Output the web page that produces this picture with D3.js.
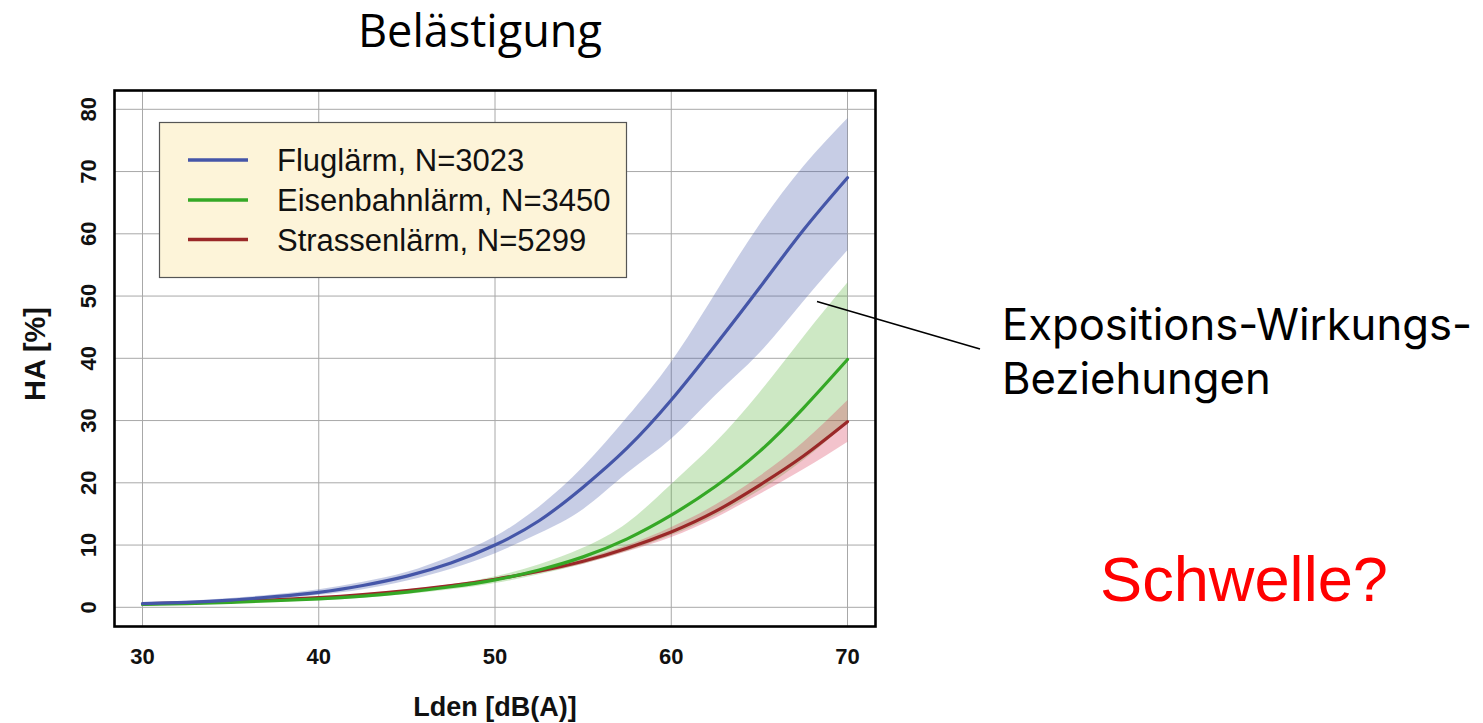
<!DOCTYPE html>
<html>
<head>
<meta charset="utf-8">
<script src="https://cdn.jsdelivr.net/npm/d3@7"></script>
<style>
  body { margin: 0; background: #fff; }
  svg { display: block; }
</style>
</head>
<body>
<svg id="chart" width="1483" height="723"></svg>
<script>
// Exposure level Lden in dB(A)
const levels = [30, 32.5, 35, 37.5, 40, 42.5, 45, 47.5, 50, 52.5, 55, 57.5, 60, 62.5, 65, 67.5, 70];

// Highly annoyed (%) – aircraft noise, with confidence band
const flugMid = [0.6, 0.8, 1.15, 1.7, 2.4, 3.5, 5.0, 7.1, 10.0, 13.9, 19.3, 25.6, 33.3, 42.1, 51.3, 60.6, 69.0];
const flugLo  = [0.39, 0.6, 0.9, 1.34, 2.0, 2.9, 4.3, 6.2, 8.7, 11.9, 15.8, 21.6, 27.1, 34.1, 40.9, 49.2, 57.4];
const flugHi  = [0.74, 1.05, 1.5, 2.1, 2.9, 4.1, 5.7, 8.2, 11.4, 16.2, 22.6, 30.6, 39.5, 50.5, 61.5, 70.9, 78.6];

// Railway noise
const bahnMid = [0.45, 0.6, 0.8, 1.05, 1.35, 1.8, 2.45, 3.3, 4.4, 6.0, 8.1, 11.0, 14.8, 19.4, 25.0, 32.0, 39.8];
const bahnLo  = [0.38, 0.5, 0.68, 0.9, 1.15, 1.55, 2.15, 2.9, 3.9, 5.3, 7.0, 9.1, 11.6, 14.8, 18.8, 23.7, 29.7];
const bahnHi  = [0.55, 0.72, 0.95, 1.2, 1.55, 2.05, 2.75, 3.7, 5.0, 6.9, 9.6, 13.6, 19.8, 26.5, 34.5, 43.5, 52.2];

// Road traffic noise
const strMid = [0.55, 0.72, 0.92, 1.2, 1.55, 2.05, 2.7, 3.5, 4.5, 5.8, 7.4, 9.5, 12.1, 15.4, 19.6, 24.3, 29.8];
const strLo  = [0.48, 0.63, 0.82, 1.08, 1.42, 1.88, 2.52, 3.28, 4.28, 5.5, 7.0, 9.0, 11.3, 14.4, 18.2, 22.2, 26.6];
const strHi  = [0.62, 0.81, 1.02, 1.33, 1.68, 2.22, 2.88, 3.72, 4.75, 6.1, 7.8, 10.0, 12.9, 16.5, 21.1, 26.6, 33.3];

const seriesNames = ["Fluglärm, N=3023", "Eisenbahnlärm, N=3450", "Strassenlärm, N=5299"];
const xTicks = [30, 40, 50, 60, 70];
const yTicks = [0, 10, 20, 30, 40, 50, 60, 70, 80];

const svg = d3.select("#chart");

// plot frame and scales
const frame = { left: 114.5, top: 90.5, right: 875.5, bottom: 626.5 };
const x = d3.scaleLinear().domain([30, 70]).range([142.5, 847.5]);
const y = d3.scaleLinear().domain([0, 80]).range([607.3, 109.3]);

const series = [
  { name: seriesNames[0], mid: flugMid, lo: flugLo, hi: flugHi, line: "#4556a8", band: "rgba(70,90,170,0.30)" },
  { name: seriesNames[1], mid: bahnMid, lo: bahnLo, hi: bahnHi, line: "#35a826", band: "rgba(90,180,60,0.30)" },
  { name: seriesNames[2], mid: strMid,  lo: strLo,  hi: strHi,  line: "#9a2828", band: "rgba(215,55,85,0.30)" }
];

// grid
const grid = svg.append("g");
grid.selectAll("line.gx").data(xTicks).join("line")
  .attr("x1", d => x(d)).attr("x2", d => x(d))
  .attr("y1", frame.top).attr("y2", frame.bottom)
  .attr("stroke", "#a8a8a8").attr("stroke-width", 1);
grid.selectAll("line.gy").data(yTicks).join("line")
  .attr("x1", frame.left).attr("x2", frame.right)
  .attr("y1", d => y(d)).attr("y2", d => y(d))
  .attr("stroke", "#a8a8a8").attr("stroke-width", 1);

// confidence bands
const area = (s) => d3.area()
  .x((d, i) => x(levels[i]))
  .y0((d, i) => y(s.lo[i]))
  .y1((d, i) => y(s.hi[i]))
  .curve(d3.curveNatural)(levels);

svg.append("g").selectAll("path").data(series).join("path")
  .attr("d", s => area(s))
  .attr("fill", s => s.band)
  .attr("stroke", "none");

// mean curves
const line = (s) => d3.line()
  .x((d, i) => x(levels[i]))
  .y((d, i) => y(s.mid[i]))
  .curve(d3.curveNatural)(levels);

svg.append("g").selectAll("path").data(series.slice().reverse()).join("path")
  .attr("d", s => line(s))
  .attr("fill", "none")
  .attr("stroke", s => s.line)
  .attr("stroke-width", 3.2)
  .attr("stroke-linecap", "round");

// legend
const lg = svg.append("g");
lg.append("rect")
  .attr("x", 159.5).attr("y", 122.5).attr("width", 467).attr("height", 155)
  .attr("fill", "#fdf4d9").attr("stroke", "#555").attr("stroke-width", 1.2);
const legendRows = [160, 200, 239.5];
series.forEach((s, i) => {
  lg.append("line")
    .attr("x1", 188).attr("x2", 248)
    .attr("y1", legendRows[i]).attr("y2", legendRows[i])
    .attr("stroke", s.line).attr("stroke-width", 3.4);
  lg.append("text")
    .attr("x", 277).attr("y", legendRows[i]).attr("dy", "0.36em")
    .attr("font-family", "'Liberation Sans', Arial, sans-serif")
    .attr("font-size", 31)
    .attr("fill", "#111")
    .text(s.name);
});

// frame
svg.append("rect")
  .attr("x", frame.left).attr("y", frame.top)
  .attr("width", frame.right - frame.left).attr("height", frame.bottom - frame.top)
  .attr("fill", "none").attr("stroke", "#000").attr("stroke-width", 2.6);

// axis tick labels
const tickFont = "'Liberation Sans', Arial, sans-serif";
svg.append("g").selectAll("text").data(xTicks).join("text")
  .attr("x", d => x(d)).attr("y", 664)
  .attr("text-anchor", "middle")
  .attr("font-family", tickFont).attr("font-weight", "bold").attr("font-size", 22)
  .attr("fill", "#111")
  .text(d => d);

svg.append("g").selectAll("text").data(yTicks).join("text")
  .attr("transform", d => `translate(96,${y(d)}) rotate(-90)`)
  .attr("text-anchor", "middle")
  .attr("font-family", tickFont).attr("font-weight", "bold").attr("font-size", 22)
  .attr("fill", "#111")
  .text(d => d);

// axis titles
svg.append("text")
  .attr("x", 495).attr("y", 716)
  .attr("text-anchor", "middle")
  .attr("font-family", tickFont).attr("font-weight", "bold").attr("font-size", 27)
  .attr("fill", "#111")
  .text("Lden [dB(A)]");

svg.append("text")
  .attr("transform", "translate(45,354) rotate(-90)")
  .attr("text-anchor", "middle")
  .attr("font-family", tickFont).attr("font-weight", "bold").attr("font-size", 29)
  .attr("fill", "#111")
  .text("HA [%]");

// headline and side notes
function fitWidth(sel, width) {
  const w = sel.node().getComputedTextLength();
  const fs = parseFloat(sel.attr("font-size"));
  if (w > 0) sel.attr("font-size", fs * width / w);
  return sel;
}

const uiFont = "'Open Sans', 'Noto Sans', sans-serif";
fitWidth(svg.append("text")
  .attr("x", 358).attr("y", 47)
  .attr("font-family", uiFont).attr("font-size", 40).attr("fill", "#000")
  .text("Belästigung"), 244);

// two-line note; a compact-metric face keeps the lines apart
const noteFont = "Inter, 'Open Sans', sans-serif";
const note1 = fitWidth(svg.append("text")
  .attr("x", 1002).attr("y", 340)
  .attr("font-family", noteFont).attr("font-size", 40).attr("fill", "#000")
  .text("Expositions-Wirkungs-"), 470);
svg.append("text")
  .attr("x", 1002).attr("y", 394)
  .attr("font-family", noteFont).attr("font-size", note1.attr("font-size")).attr("fill", "#000")
  .text("Beziehungen");

// pointer from the note to the curves
svg.append("line")
  .attr("x1", 817).attr("y1", 301.5).attr("x2", 980).attr("y2", 349)
  .attr("stroke", "#000").attr("stroke-width", 1.6);

fitWidth(svg.append("text")
  .attr("x", 1100).attr("y", 601)
  .attr("font-family", "'Liberation Sans', Arial, sans-serif").attr("font-size", 60)
  .attr("fill", "#ff0000")
  .text("Schwelle?"), 288);
</script>
</body>
</html>
